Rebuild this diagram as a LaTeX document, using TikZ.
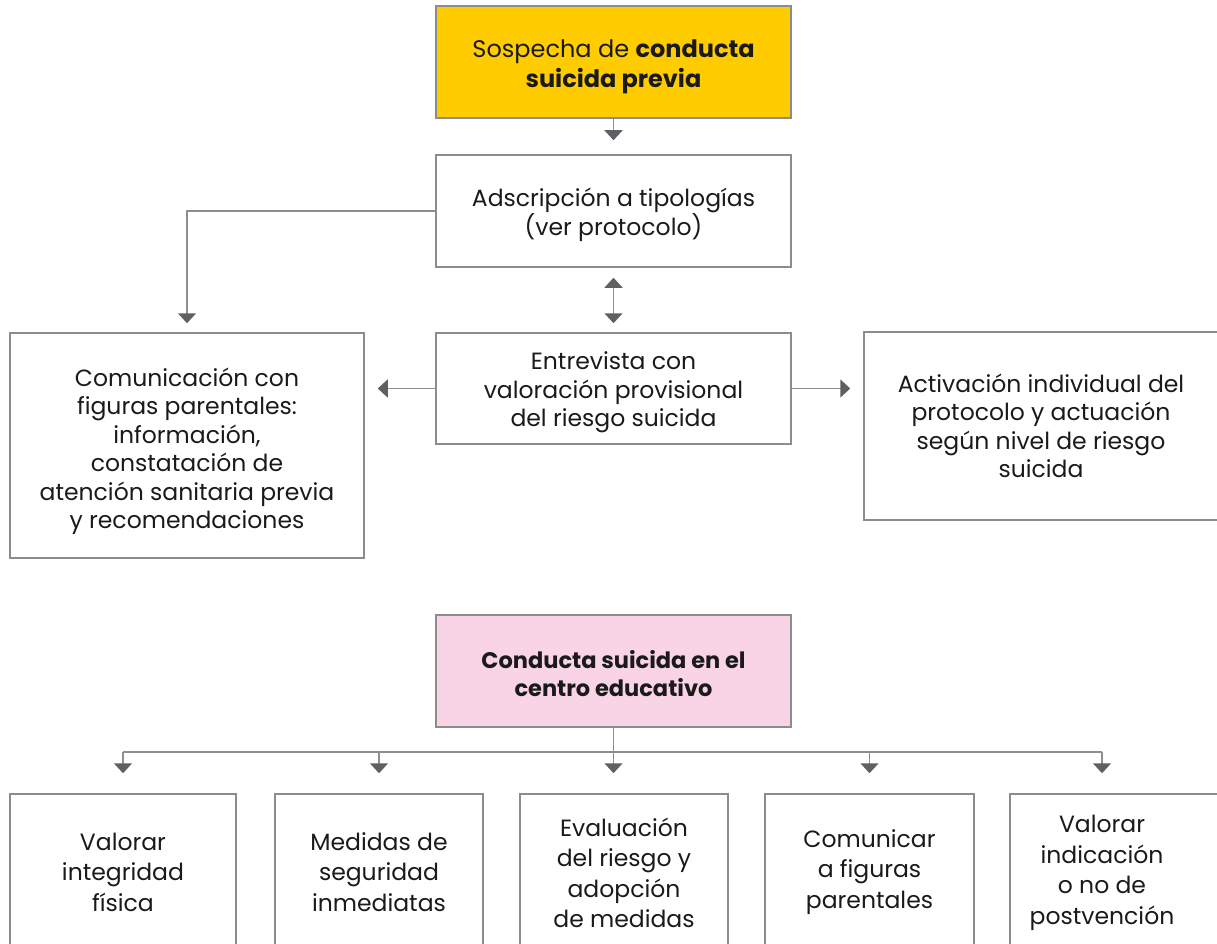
\documentclass[tikz,border=0pt]{standalone}
\usepackage{fontspec}
\setmainfont{Poppins}
\usetikzlibrary{arrows.meta}
\definecolor{boxgray}{HTML}{8C8C8C}
\definecolor{linegray}{HTML}{8E8E90}
\definecolor{tipgray}{HTML}{606064}
\definecolor{ambar}{HTML}{FFCC00}
\definecolor{rosa}{HTML}{F9D3E6}
\definecolor{ink}{HTML}{1A1A1A}
\begin{document}
\begin{tikzpicture}[x=1pt,y=-1pt,
  box/.style={draw=boxgray,line width=1.5pt,inner sep=0pt},
  txt/.style={align=center,inner sep=0pt,text=ink,font=\fontsize{23.5}{28.5}\selectfont},
  txtb/.style={txt,font=\fontsize{23.5}{30.5}\selectfont},
  conn/.style={draw=linegray,line width=1.5pt},
  arr/.style={conn,-{Triangle[width=18pt,length=10pt,color=tipgray]}},
  darr/.style={conn,{Triangle[width=18pt,length=10pt,color=tipgray]}-{Triangle[width=18pt,length=10pt,color=tipgray]}}
]
\useasboundingbox (0,0) rectangle (1217,944);

% upper part
\node[box,fill=ambar,minimum width=355pt,minimum height=112pt] (top) at (613.5,62) {};
\node[txt,font=\fontsize{24}{30}\selectfont] (topt) at (613.5,67)
  {Sospecha de \textbf{conducta}\\\textbf{suicida previa}};
\node[box,minimum width=355pt,minimum height=112pt] (adsc) at (613.5,211) {};
\node[txt] (adsct) at (613.5,215) {Adscripción a tipologías\\(ver protocolo)};
\node[box,minimum width=355pt,minimum height=111pt] (entr) at (613.5,388.5) {};
\node[txt] (entrt) at (613.5,392.5) {Entrevista con\\valoración provisional\\del riesgo suicida};
\node[box,minimum width=354pt,minimum height=225pt] (left) at (187,445.5) {};
\node[txt] (leftt) at (187,451.5)
  {Comunicación con\\figuras parentales:\\información,\\constatación de\\atención sanitaria previa\\y recomendaciones};
\node[box,minimum width=354pt,minimum height=188pt] (right) at (1041,426) {};
\node[txt] (rightt) at (1041,426)
  {Activación individual del\\protocolo y actuación\\según nivel de riesgo\\suicida};

\draw[arr,shorten >=14pt] (top.south) -- (adsc.north);
\draw[darr,shorten <=10pt,shorten >=9pt] (adsc.south) -- (entr.north);
\draw[arr,shorten >=9pt] (adsc.west) -| (left.north);
\draw[arr,shorten >=13pt] (entr.west) -- (entr.west -| left.east);
\draw[arr,shorten >=13pt] (entr.east) -- (entr.east -| right.west);

% lower part
\node[box,fill=rosa,minimum width=355pt,minimum height=112pt] (pink) at (613.5,671) {};
\node[txt,font=\fontsize{22.5}{27.5}\selectfont\bfseries] (pinkt) at (613.5,673.5)
  {Conducta suicida en el\\centro educativo};

\node[box,minimum width=226pt,minimum height=152pt] (b1) at (123,870) {};
\node[txtb] (b1t) at (123,872) {Valorar\\integridad\\física};
\node[box,minimum width=208pt,minimum height=152pt] (b2) at (379,870) {};
\node[txtb] (b2t) at (379,872) {Medidas de\\seguridad\\inmediatas};
\node[box,minimum width=208pt,minimum height=152pt] (b3) at (624,870) {};
\node[txtb] (b3t) at (624,873) {Evaluación\\del riesgo y\\adopción\\de medidas};
\node[box,minimum width=209pt,minimum height=152pt] (b4) at (869.5,870) {};
\node[txtb] (b4t) at (869.5,872) {Comunicar\\a figuras\\parentales};
\node[box,minimum width=216pt,minimum height=152pt] (b5) at (1118,870) {};
\node[txtb] (b5t) at (1102,873) {Valorar\\indicación\\o no de\\postvención};

\coordinate (bus) at (613.5,752);
\coordinate (bus1) at (bus -| b1);
\coordinate (bus2) at (bus -| b2);
\coordinate (bus4) at (bus -| b4);
\coordinate (bus5) at (bus -| b5t);
\coordinate (b3top) at (bus |- b3.north);
\coordinate (b5top) at (b5t |- b5.north);
\draw[conn] (pink.south) -- (bus);
\draw[conn] (bus1) -- (bus5);
\draw[arr,shorten >=20pt] (bus1) -- (b1.north);
\draw[arr,shorten >=20pt] (bus2) -- (b2.north);
\draw[arr,shorten >=20pt] (bus) -- (b3top);
\draw[arr,shorten >=20pt] (bus4) -- (b4.north);
\draw[arr,shorten >=20pt] (bus5) -- (b5top);
\end{tikzpicture}
\end{document}
